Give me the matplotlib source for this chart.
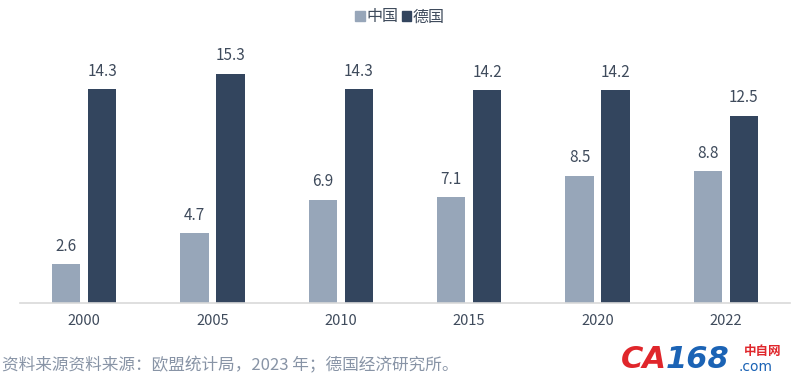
import matplotlib
matplotlib.use("Agg")
import matplotlib.pyplot as plt
from matplotlib.patches import Patch
import numpy as np

plt.rcParams['font.family'] = ['Noto Sans CJK SC', 'DejaVu Sans']

# data
years = ["2000", "2005", "2010", "2015", "2020", "2022"]
china = [2.6, 4.7, 6.9, 7.1, 8.5, 8.8]
germany = [14.3, 15.3, 14.3, 14.2, 14.2, 12.5]
series_names = ["中国", "德国"]
source_text = "资料来源资料来源：欧盟统计局，2023 年；德国经济研究所。"

C_CHINA = "#97a6b9"
C_GER = "#33455e"
TXT = "#3f4b5c"

fig = plt.figure(figsize=(8, 3.87), dpi=100)
# axes: x 20..790 px, baseline at y=303 px, top at 33 px
ax = fig.add_axes([20 / 800, (387 - 303) / 387, 770 / 800, 270 / 387])

x = np.arange(len(years))
w = 0.22
off = 0.14
b1 = ax.bar(x - off, china, w, color=C_CHINA, zorder=2)
b2 = ax.bar(x + off, germany, w, color=C_GER, zorder=2)

for bars, vals in ((b1, china), (b2, germany)):
    for r, v in zip(bars, vals):
        ax.text(r.get_x() + r.get_width() / 2, v + 0.6, f"{v:.1f}",
                ha="center", va="bottom", fontsize=11, color=TXT, fontweight="medium")

ax.set_xlim(-0.5, 5.5)
ax.set_ylim(0, 18)
ax.set_xticks(x)
ax.set_xticklabels(years, fontsize=10.5, color=TXT, fontweight="medium")
ax.tick_params(axis="x", length=0, pad=8)
ax.set_yticks([])
for s in ("left", "right", "top"):
    ax.spines[s].set_visible(False)
ax.spines["bottom"].set_color("#d9d9d9")
ax.spines["bottom"].set_linewidth(1.2)

handles = [Patch(color=C_CHINA), Patch(color=C_GER)]
fig.legend(handles, series_names, loc="center", bbox_to_anchor=(400 / 800, 1 - 17 / 387),
           ncol=2, frameon=False, fontsize=11.5, handlelength=0.6, handleheight=0.6,
           handletextpad=0.1, columnspacing=0.2, labelcolor=TXT)

fig.text(2 / 800, 1 - 366 / 387, source_text, fontsize=12, color="#8894a6",
         ha="left", va="center")

# logo in the corner
fig.text(621 / 800, 1 - 360 / 387, "CA", fontsize=22, color="#e0262b",
         fontweight="bold", style="italic", ha="left", va="center", family="DejaVu Sans")
fig.text(666 / 800, 1 - 360 / 387, "168", fontsize=22, color="#1b63b5",
         fontweight="bold", style="italic", ha="left", va="center", family="DejaVu Sans")
fig.text(744 / 800, 1 - 351 / 387, "中自网", fontsize=9, color="#e0262b",
         ha="left", va="center", fontweight="bold")
fig.text(738 / 800, 1 - 367 / 387, ".com", fontsize=10, color="#1b63b5",
         ha="left", va="center", family="DejaVu Sans")

fig.savefig("out.png", dpi=100)
